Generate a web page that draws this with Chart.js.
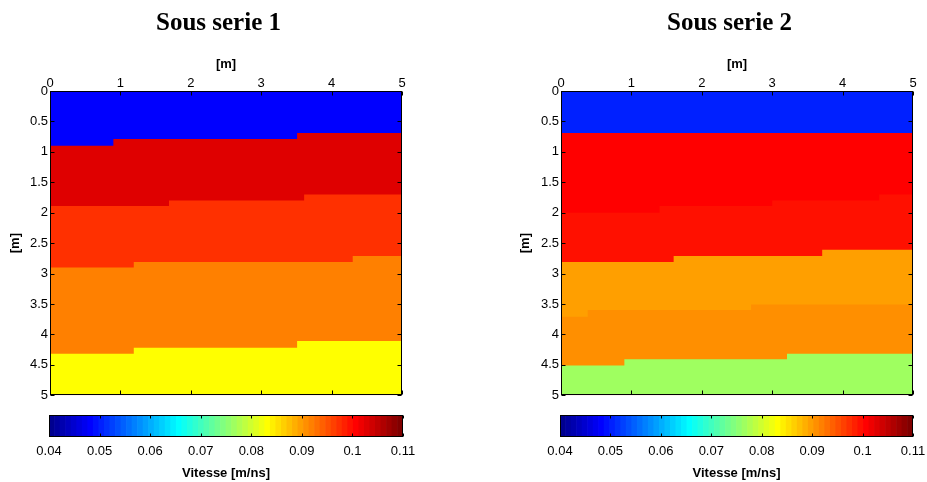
<!DOCTYPE html>
<html><head><meta charset="utf-8">
<script src="https://cdn.jsdelivr.net/npm/chart.js@4/dist/chart.umd.min.js"></script>
<style>
html,body{margin:0;padding:0;background:#fff;overflow:hidden;}
#wrap{position:relative;width:927px;height:482px;overflow:hidden;background:#fff;}
canvas{position:absolute;display:block;}
</style></head><body>
<div id="wrap">
<canvas id="p1" width="437" height="405" style="left:0;top:0;width:437px;height:405px"></canvas>
<canvas id="p2" width="439" height="405" style="left:510px;top:0;width:439px;height:405px"></canvas>
<canvas id="c1" width="425" height="77" style="left:0;top:405px;width:425px;height:77px"></canvas>
<canvas id="c2" width="425" height="77" style="left:510px;top:405px;width:425px;height:77px"></canvas>
</div>
<script>
// ---------- data ----------
const panelTitles = ['Sous serie 1', 'Sous serie 2'];
const axisLabel = '[m]';
const colorbarLabel = 'Vitesse [m/ns]';
const vMin = 0.04, vMax = 0.11, nColors = 64;
const xMin = 0, xMax = 5, depthMin = 0, depthMax = 5;

// Sous serie 1 : layer velocities (top to bottom) and layer-top boundaries (x breakpoints / depth)
const p1Velocity = [0.0482, 0.1030, 0.0974, 0.0920, 0.0832];
const p1BoundaryX     = [[0, 0.90, 3.51], [0, 1.69, 3.61], [0, 1.19, 4.30], [0, 1.19, 3.51]];
const p1BoundaryDepth = [[0.90, 0.79, 0.69], [1.89, 1.80, 1.70], [2.90, 2.81, 2.71], [4.32, 4.22, 4.11]];

// Sous serie 2
const p2Velocity = [0.0504, 0.1008, 0.0997, 0.0897, 0.0908, 0.0766];
const p2BoundaryX     = [[0], [0, 1.40, 3.00, 4.52], [0, 1.60, 3.71], [0, 0.38, 2.70], [0, 0.90, 3.21]];
const p2BoundaryDepth = [[0.69], [2.00, 1.89, 1.80, 1.70], [2.81, 2.71, 2.61], [3.71, 3.60, 3.51], [4.51, 4.41, 4.32]];

// ---------- colormap (MATLAB jet, 64 colours) ----------
function jetColor(k) { // k: 1..64
  const u = j => (j < 1 || j > 47) ? 0 : (j <= 16 ? j / 16 : (j <= 31 ? 1 : (48 - j) / 16));
  const r = u(k - 24), g = u(k - 8), b = u(k + 8);
  return 'rgb(' + Math.round(r * 255) + ',' + Math.round(g * 255) + ',' + Math.round(b * 255) + ')';
}
function velToIndex(v) {
  let k = Math.floor((v - vMin) / (vMax - vMin) * nColors) + 1;
  return Math.min(nColors, Math.max(1, k));
}
const fmt = v => String(parseFloat(Number(v).toFixed(4)));

Chart.defaults.font.family = "'Liberation Sans', Arial, Helvetica, sans-serif";
Chart.defaults.color = '#000';
Chart.defaults.animation = false;

// plugin: black box + inward tick marks
const boxTicks = {
  id: 'boxTicks',
  afterDraw(chart, args, opts) {
    const {ctx, chartArea: a} = chart;
    const len = opts.len || 4;
    ctx.save();
    ctx.strokeStyle = '#000';
    ctx.lineWidth = 1;
    const L = Math.round(a.left) + 0.5, R = Math.round(a.right) - 0.5;
    const T = Math.round(a.top) + 0.5, B = Math.round(a.bottom) - 0.5;
    ctx.beginPath();
    (opts.xScales || []).forEach(id => {
      const s = chart.scales[id];
      s.ticks.forEach(t => {
        const p = Math.round(s.getPixelForValue(t.value)) + 0.5;
        ctx.moveTo(p, T); ctx.lineTo(p, T + len);
        ctx.moveTo(p, B); ctx.lineTo(p, B - len);
      });
    });
    (opts.yScales || []).forEach(id => {
      const s = chart.scales[id];
      s.ticks.forEach(t => {
        const p = Math.round(s.getPixelForValue(t.value)) + 0.5;
        ctx.moveTo(L, p); ctx.lineTo(L + len, p);
        ctx.moveTo(R, p); ctx.lineTo(R - len, p);
      });
    });
    ctx.stroke();
    ctx.strokeRect(L, T, R - L, B - T);
    ctx.restore();
  }
};

function makePanel(id, title, velocities, bx, bd, lay) {
  const datasets = velocities.map((v, i) => {
    let pts;
    if (i === 0) {
      pts = [{x: xMin, y: depthMin}, {x: xMax, y: depthMin}];
    } else {
      const xs = bx[i - 1], ds = bd[i - 1];
      pts = xs.map((x, j) => ({x: x, y: ds[j]}));
      pts.push({x: xMax, y: ds[ds.length - 1]});
    }
    const c = jetColor(velToIndex(v));
    return {
      label: 'couche ' + (i + 1), data: pts, stepped: 'before',
      fill: {value: depthMax}, backgroundColor: c, borderColor: c,
      borderWidth: 0, pointRadius: 0, order: -i, xAxisID: 'x', yAxisID: 'y'
    };
  });
  return new Chart(document.getElementById(id), {
    type: 'line',
    data: {datasets},
    plugins: [boxTicks],
    options: {
      responsive: false, devicePixelRatio: 1, animation: false,
      layout: {padding: {left: 0, right: 0, top: 0, bottom: 7}},
      plugins: {
        legend: {display: false}, tooltip: {enabled: false},
        title: {display: true, text: title, color: '#000',
          font: {family: "'Liberation Serif', 'Times New Roman', serif", size: 25, weight: 'bold'},
          padding: {top: 9, bottom: 0}},
        boxTicks: {xScales: ['x'], yScales: ['y'], len: 4}
      },
      scales: {
        x: {type: 'linear', position: 'top', min: xMin, max: xMax, offset: false,
          afterFit: s => { s.height = 52; },
          grid: {display: false, drawTicks: false}, border: {display: false},
          ticks: {stepSize: 1, padding: 0, color: '#000', font: {size: 13}, maxRotation: 0, callback: fmt},
          title: {display: true, text: axisLabel, color: '#000', font: {size: 13, weight: 'bold'}, padding: {top: 17.5, bottom: 0}}},
        y: {type: 'linear', position: 'left', reverse: true, min: depthMin, max: depthMax,
          afterFit: s => { s.width = lay.yAxisW; },
          grid: {display: false, drawTicks: false}, border: {display: false},
          ticks: {stepSize: 0.5, padding: 2, color: '#000', font: {size: 13}, callback: fmt},
          title: {display: true, text: axisLabel, color: '#000', font: {size: 13, weight: 'bold'}, padding: {top: 7.5, bottom: 0}}},
        yRight: {type: 'linear', position: 'right', min: depthMin, max: depthMax,
          afterFit: s => { s.width = lay.rightW; },
          grid: {display: false, drawTicks: false}, border: {display: false},
          ticks: {display: false}}
      }
    }
  });
}

function makeColorbar(id, lay) {
  const labels = [], colors = [], values = [];
  for (let k = 1; k <= nColors; k++) { labels.push(String(k)); colors.push(jetColor(k)); values.push(1); }
  return new Chart(document.getElementById(id), {
    type: 'bar',
    data: {labels, datasets: [{data: values, backgroundColor: colors, borderWidth: 0,
      barPercentage: 1, categoryPercentage: 1, xAxisID: 'x', yAxisID: 'y'}]},
    plugins: [boxTicks],
    options: {
      responsive: false, devicePixelRatio: 1, animation: false,
      layout: {padding: lay.padding},
      plugins: {legend: {display: false}, tooltip: {enabled: false},
        boxTicks: {xScales: ['x2'], yScales: [], len: 3}},
      scales: {
        x: {type: 'category', display: false},
        y: {type: 'linear', display: false, min: 0, max: 1},
        x2: {type: 'linear', position: 'bottom', min: vMin, max: vMax, offset: false,
          afterFit: s => { s.height = 45; },
          grid: {display: false, drawTicks: false, offset: false}, border: {display: false},
          ticks: {stepSize: 0.01, padding: 7, color: '#000', font: {size: 13}, maxRotation: 0, callback: fmt},
          title: {display: true, text: colorbarLabel, color: '#000', font: {size: 13, weight: 'bold'}, padding: {top: 0, bottom: 1}}}
      }
    }
  });
}

makePanel('p1', panelTitles[0], p1Velocity, p1BoundaryX, p1BoundaryDepth, {yAxisW: 50, rightW: 35});
makePanel('p2', panelTitles[1], p2Velocity, p2BoundaryX, p2BoundaryDepth, {yAxisW: 51, rightW: 36});
makeColorbar('c1', {padding: {left: 49, right: 22, top: 10, bottom: 0}});
makeColorbar('c2', {padding: {left: 50, right: 22, top: 10, bottom: 0}});
</script>
</body></html>
